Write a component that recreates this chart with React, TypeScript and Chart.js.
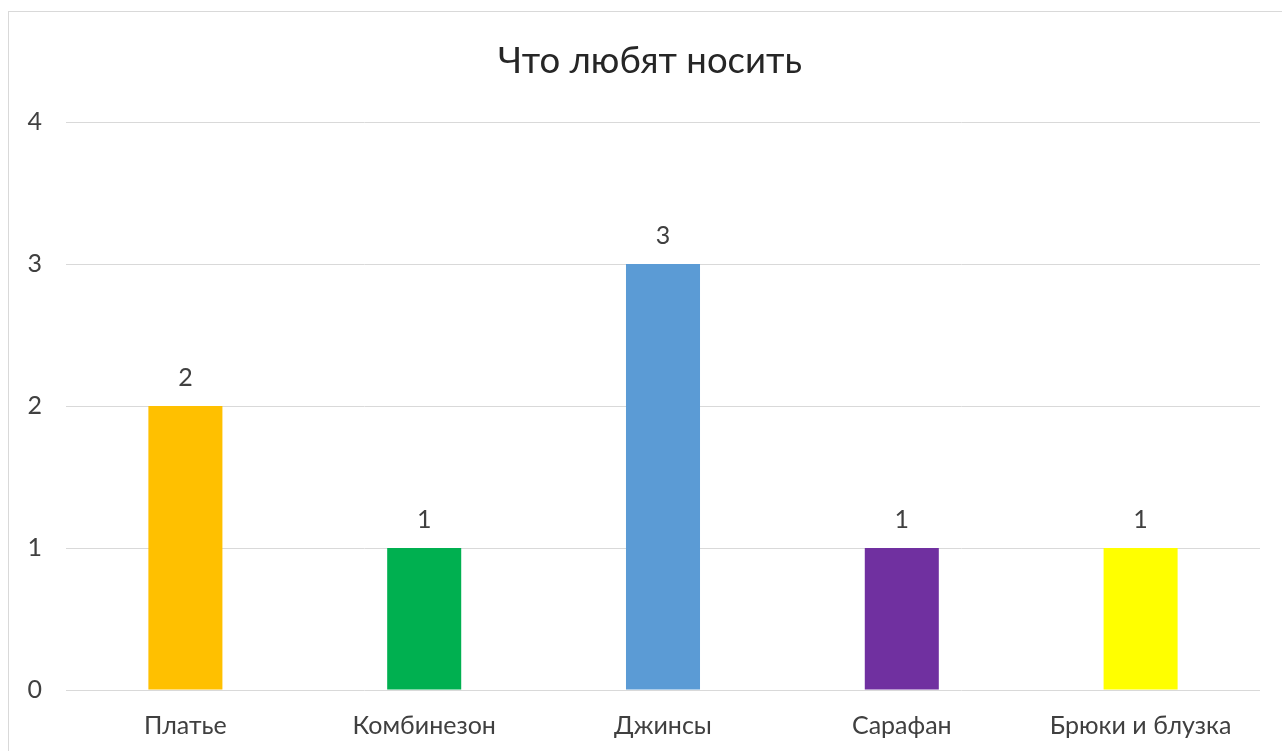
import React, { useEffect, useRef } from "react";
import { Chart, registerables } from "chart.js";

Chart.register(...registerables);

const titleText = "Что любят носить";
const categories = ["Платье", "Комбинезон", "Джинсы", "Сарафан", "Брюки и блузка"];
const values = [2, 1, 3, 1, 1];
const barColors = ["#FFC000", "#00B050", "#5B9BD5", "#7030A0", "#FFFF00"];
const yTicks = [0, 1, 2, 3, 4];

const FONT = "Lato";
const TEXT = "#404040";

const dataLabels = {
  id: "dataLabels",
  afterDatasetsDraw(chart: any) {
    const ctx = chart.ctx;
    const meta = chart.getDatasetMeta(0);
    ctx.save();
    ctx.font = `25px ${FONT}`;
    ctx.fillStyle = TEXT;
    ctx.textAlign = "center";
    ctx.textBaseline = "alphabetic";
    meta.data.forEach((el: any, i: number) => {
      ctx.fillText(String(values[i]), el.x, el.y - 20);
    });
    ctx.restore();
  },
};

const chartTitle = {
  id: "chartTitle",
  afterDraw(chart: any) {
    const ctx = chart.ctx;
    ctx.save();
    ctx.font = `36.5px ${FONT}`;
    ctx.fillStyle = "#262626";
    ctx.textAlign = "center";
    ctx.textBaseline = "middle";
    ctx.fillText(titleText, 650, 61);
    ctx.restore();
  },
};

export default function App() {
  const ref = useRef<HTMLCanvasElement | null>(null);
  useEffect(() => {
    if (!ref.current) return;
    const chart = new Chart(ref.current, {
      type: "bar",
      data: {
        labels: categories,
        datasets: [
          {
            data: values,
            backgroundColor: barColors,
            borderWidth: 0,
            barPercentage: 0.31,
            categoryPercentage: 1,
          },
        ],
      },
      options: {
        animation: false,
        responsive: false,
        maintainAspectRatio: false,
        layout: { padding: { left: 0, right: 22, top: 122, bottom: 0 } },
        plugins: {
          legend: { display: false },
          tooltip: { enabled: false },
          title: { display: false },
        },
        scales: {
          x: {
            grid: { display: false },
            border: { display: false },
            ticks: {
              color: TEXT,
              font: { family: FONT, size: 25 },
              padding: 13,
              maxRotation: 0,
              autoSkip: false,
            },
            afterFit(scale: any) {
              scale.height = 61;
            },
          },
          y: {
            min: 0,
            max: 4,
            grid: { color: "#d9d9d9", lineWidth: 1, drawTicks: false },
            border: { display: false },
            ticks: {
              color: TEXT,
              font: { family: FONT, size: 25 },
              padding: 24,
              stepSize: 1,
              callback: (v: any) => (yTicks.includes(Number(v)) ? String(v) : ""),
            },
            afterFit(scale: any) {
              scale.width = 66;
            },
          },
        },
      },
      plugins: [dataLabels, chartTitle],
    });
    return () => chart.destroy();
  }, []);

  return (
    <div
      style={{
        position: "fixed",
        left: 0,
        top: 0,
        width: 1282,
        height: 751,
        overflow: "hidden",
        background: "#fff",
      }}
    >
      <div
        style={{
          position: "absolute",
          left: 8,
          top: 11,
          width: 1300,
          height: 800,
          border: "1px solid #d9d9d9",
        }}
      />
      <canvas
        ref={ref}
        width={1282}
        height={751}
        style={{ position: "absolute", left: 0, top: 0, width: 1282, height: 751 }}
      />
    </div>
  );
}
